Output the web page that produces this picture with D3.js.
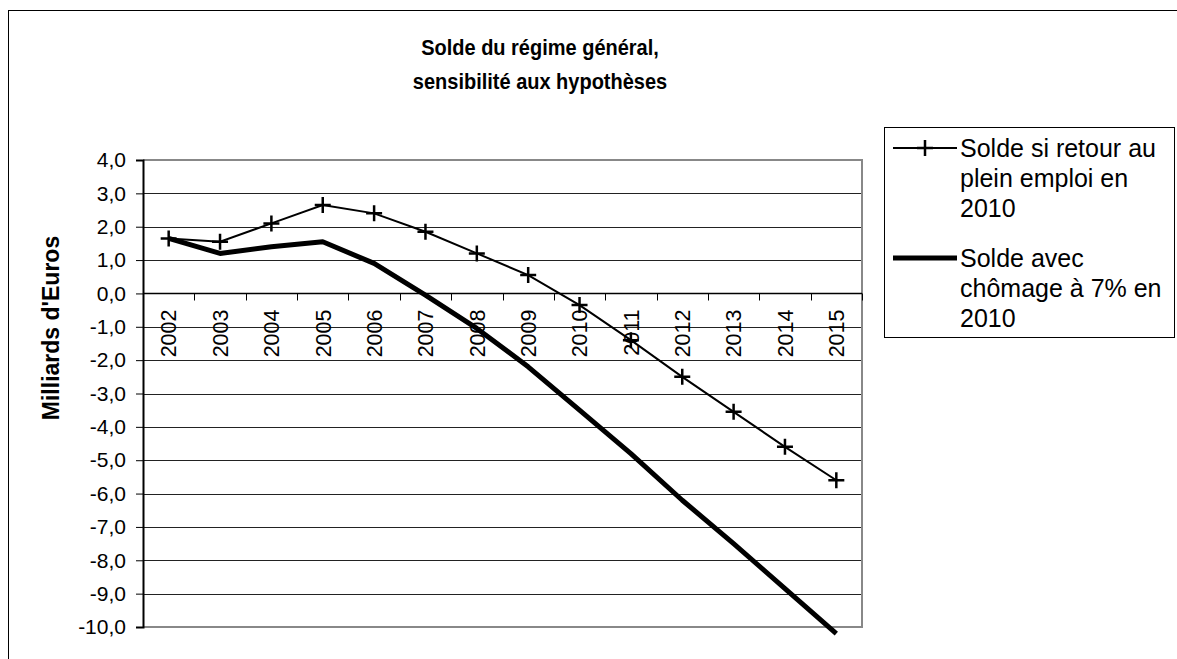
<!DOCTYPE html>
<html>
<head>
<meta charset="utf-8">
<script src="https://cdn.jsdelivr.net/npm/d3@7"></script>
<style>
  body { margin: 0; background: #fff; }
  text { font-family: 'Liberation Sans', Arial, sans-serif; fill: #000; }
</style>
</head>
<body>
<div id="chart"></div>
<script>
const years = ['2002', '2003', '2004', '2005', '2006', '2007', '2008', '2009', '2010', '2011', '2012', '2013', '2014', '2015']
const pleinEmploi = [1.65, 1.55, 2.1, 2.65, 2.4, 1.85, 1.2, 0.55, -0.35, -1.4, -2.5, -3.55, -4.6, -5.6]
const chomage7 = [1.65, 1.2, 1.4, 1.55, 0.9, -0.05, -1.05, -2.2, -3.5, -4.8, -6.2, -7.5, -8.85, -10.2]
const yTicks = [4, 3, 2, 1, 0, -1, -2, -3, -4, -5, -6, -7, -8, -9, -10]
const seriesNames = [
  ['Solde si retour au', 'plein emploi en', '2010'],
  ['Solde avec', 'chômage à 7% en', '2010']
]

const width = 1177
const height = 659
const plot = { left: 143, right: 862, top: 160, bottom: 627 }

const svg = d3
  .select('#chart')
  .append('svg')
  .attr('width', width)
  .attr('height', height)

// outer frame (runs off the right and bottom edges)
svg.append('rect')
  .attr('x', 8.5).attr('y', 10.5)
  .attr('width', 1200).attr('height', 700)
  .attr('fill', 'none').attr('stroke', '#000').attr('stroke-width', 1)

const x = d3.scaleBand().domain(years).range([plot.left, plot.right])
const y = d3.scaleLinear().domain([-10, 4]).range([plot.bottom, plot.top])

// gridlines
svg.append('g')
  .selectAll('line')
  .data(yTicks.filter(d => d > -10 && d < 4))
  .enter()
  .append('line')
  .attr('x1', plot.left).attr('x2', plot.right)
  .attr('y1', d => Math.round(y(d)) + 0.5).attr('y2', d => Math.round(y(d)) + 0.5)
  .attr('stroke', '#222').attr('stroke-width', 1)

// plot border (grey) top, right, bottom
svg.append('path')
  .attr('d', `M${plot.left},${plot.top}H${plot.right}V${plot.bottom}H${plot.left}`)
  .attr('fill', 'none').attr('stroke', '#888').attr('stroke-width', 2)

// y axis
const yAxis = d3.axisLeft(y)
  .tickValues(yTicks)
  .tickSize(7)
  .tickPadding(10)
  .tickFormat(d => d3.format('.1f')(d).replace('.', ',').replace('−', '-'))

const gy = svg.append('g')
  .attr('transform', `translate(${plot.left},0)`)
  .call(yAxis)
gy.select('.domain').attr('stroke', '#000').attr('stroke-width', 2)
gy.selectAll('.tick line').attr('stroke', '#000')
gy.selectAll('.tick text')
  .style('font-size', '21px')
  .attr('font-family', "'Liberation Sans', Arial, sans-serif")

// x axis along zero
const x0 = Math.round(y(0)) + 0.5
svg.append('line')
  .attr('x1', plot.left).attr('x2', plot.right)
  .attr('y1', x0).attr('y2', x0)
  .attr('stroke', '#000').attr('stroke-width', 1.5)

const bounds = years.map(d => x(d)).concat([plot.right])
svg.append('g')
  .selectAll('line')
  .data(bounds.slice(1))
  .enter()
  .append('line')
  .attr('x1', d => Math.round(d) + 0.5).attr('x2', d => Math.round(d) + 0.5)
  .attr('y1', x0).attr('y2', x0 + 7)
  .attr('stroke', '#000')

svg.append('g')
  .selectAll('text')
  .data(years)
  .enter()
  .append('text')
  .attr('transform', d => `translate(${x(d) + x.bandwidth() / 2},${x0 + 16}) rotate(-90)`)
  .attr('text-anchor', 'end')
  .attr('dy', '0.36em')
  .style('font-size', '21.5px')
  .text(d => d)

// lines
const line = d3.line()
  .x((d, i) => x(years[i]) + x.bandwidth() / 2)
  .y(d => y(d))

svg.append('path')
  .datum(chomage7)
  .attr('d', line)
  .attr('fill', 'none')
  .attr('stroke', '#000')
  .attr('stroke-width', 5)
  .attr('stroke-linejoin', 'round')

svg.append('path')
  .datum(pleinEmploi)
  .attr('d', line)
  .attr('fill', 'none')
  .attr('stroke', '#000')
  .attr('stroke-width', 2)

svg.append('g')
  .selectAll('path')
  .data(pleinEmploi)
  .enter()
  .append('path')
  .attr('d', (d, i) => {
    const cx = x(years[i]) + x.bandwidth() / 2
    const cy = y(d)
    return `M${cx - 8},${cy}H${cx + 8}M${cx},${cy - 8}V${cy + 8}`
  })
  .attr('stroke', '#000')
  .attr('stroke-width', 2.5)

// title (slightly taller than wide, like the original)
svg.append('text')
  .attr('transform', 'translate(540,55) scale(1,1.12)')
  .attr('text-anchor', 'middle')
  .style('font-size', '20px').style('font-weight', 'bold')
  .text('Solde du régime général,')
svg.append('text')
  .attr('transform', 'translate(540,89) scale(1,1.12)')
  .attr('text-anchor', 'middle')
  .style('font-size', '20px').style('font-weight', 'bold')
  .text('sensibilité aux hypothèses')

// y axis title
svg.append('text')
  .attr('transform', 'translate(59,328) rotate(-90)')
  .attr('text-anchor', 'middle')
  .style('font-size', '23px').style('font-weight', 'bold')
  .text("Milliards d'Euros")

// legend
const legend = svg.append('g')
legend.append('rect')
  .attr('x', 884.5).attr('y', 127.5)
  .attr('width', 290).attr('height', 210)
  .attr('fill', '#fff').attr('stroke', '#000')

const legendY = [148, 258]
legend.append('line')
  .attr('x1', 893).attr('x2', 957)
  .attr('y1', legendY[0]).attr('y2', legendY[0])
  .attr('stroke', '#000').attr('stroke-width', 2)
legend.append('path')
  .attr('d', `M917,${legendY[0]}H933M925,${legendY[0] - 8}V${legendY[0] + 8}`)
  .attr('stroke', '#000').attr('stroke-width', 2.5)
legend.append('line')
  .attr('x1', 893).attr('x2', 957)
  .attr('y1', legendY[1]).attr('y2', legendY[1])
  .attr('stroke', '#000').attr('stroke-width', 5)

seriesNames.forEach((lines, k) => {
  lines.forEach((t, j) => {
    legend.append('text')
      .attr('x', 960)
      .attr('y', legendY[k] + j * 30)
      .attr('dy', '0.36em')
      .style('font-size', '25px')
      .text(t)
  })
})
</script>
</body>
</html>
